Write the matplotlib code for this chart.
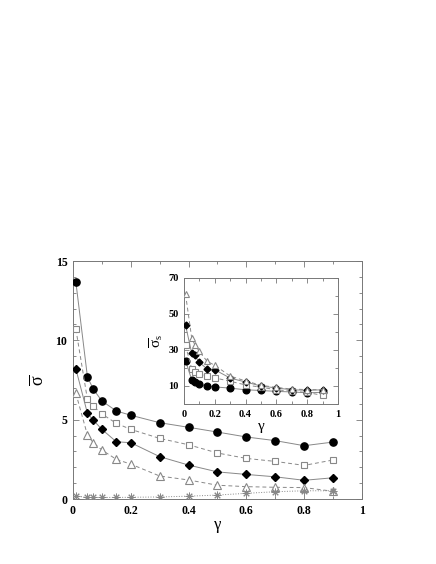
import matplotlib
matplotlib.use("Agg")
import matplotlib.pyplot as plt
from matplotlib.ticker import MultipleLocator

plt.rcParams['font.family'] = ['Liberation Serif', 'DejaVu Serif']
plt.rcParams['mathtext.fontset'] = 'custom'
plt.rcParams['mathtext.rm'] = 'Liberation Serif'
plt.rcParams['mathtext.it'] = 'Liberation Serif'
plt.rcParams['mathtext.bf'] = 'Liberation Serif:bold'

# ---- data: main panel ----
gamma = [0.01, 0.05, 0.07, 0.1, 0.15, 0.2, 0.3, 0.4, 0.5, 0.6, 0.7, 0.8, 0.9]
sig_circle = [13.67, 7.70, 6.93, 6.18, 5.55, 5.28, 4.81, 4.52, 4.22, 3.91, 3.68, 3.36, 3.59]
sig_square = [10.7, 6.28, 5.86, 5.36, 4.77, 4.39, 3.82, 3.42, 2.90, 2.56, 2.37, 2.12, 2.46]
sig_diamond = [8.2, 5.40, 4.98, 4.39, 3.61, 3.55, 2.67, 2.14, 1.71, 1.55, 1.40, 1.18, 1.34]
sig_triangle = [6.66, 4.03, 3.55, 3.09, 2.50, 2.20, 1.45, 1.20, 0.87, 0.78, 0.74, 0.72, 0.49]
sig_star = [0.19, 0.10, 0.10, 0.10, 0.10, 0.11, 0.13, 0.18, 0.25, 0.36, 0.46, 0.52, 0.52]

# ---- data: inset ----
gamma_in = [0.01, 0.05, 0.07, 0.1, 0.15, 0.2, 0.3, 0.4, 0.5, 0.6, 0.7, 0.8, 0.9]
sigs_circle = [24.0, 13.5, 12.0, 11.0, 10.0, 9.5, 8.8, 7.9, 7.5, 7.0, 6.7, 6.2, 6.5]
sigs_square = [32.6, 19.5, 18.0, 16.6, 15.5, 14.5, 12.6, 10.6, 9.3, 7.9, 7.1, 6.4, 4.8]
sigs_diamond = [43.8, 28.3, 27.0, 23.1, 19.5, 19.0, 14.4, 12.2, 10.0, 8.9, 7.9, 7.6, 7.9]
sigs_triangle = [61.0, 36.7, 33.0, 29.2, 23.7, 21.5, 15.5, 12.8, 10.4, 9.2, 8.3, 8.0, 7.9]

fig = plt.figure(figsize=(4.36, 5.64), dpi=100)
ax = fig.add_axes([0.1674, 0.1152, 0.6628, 0.422])

lc = '#888888'
lw = 0.7
ax.plot(gamma, sig_circle, '-', color=lc, lw=lw, marker='o', ms=5.2,
        mfc='black', mec='black', zorder=3)
ax.plot(gamma, sig_square, '--', color=lc, lw=lw, dashes=(4, 3), marker='s', ms=4.6,
        mfc='white', mec='#888888', mew=0.8, zorder=3)
ax.plot(gamma, sig_diamond, '-', color=lc, lw=lw, marker='D', ms=3.8,
        mfc='black', mec='black', zorder=3)
ax.plot(gamma, sig_triangle, '--', color=lc, lw=lw, dashes=(4, 3), marker='^', ms=5.6,
        mfc='white', mec='#888888', mew=0.8, zorder=3)
ax.plot(gamma, sig_star, ':', color=lc, lw=lw, marker=(8, 2, 0), ms=5.5,
        mec='#888888', mew=0.7, zorder=3)

ax.set_xlim(0, 1)
ax.set_ylim(0, 15)
ax.set_xticks([0, 0.2, 0.4, 0.6, 0.8, 1])
ax.set_xticklabels(['0', '0.2', '0.4', '0.6', '0.8', '1'])
ax.xaxis.set_minor_locator(MultipleLocator(0.1))
ax.set_yticks([0, 5, 10, 15])
ax.set_yticklabels(['0', '5', '10', '15'])
ax.yaxis.set_minor_locator(MultipleLocator(1))
ax.tick_params(which='both', direction='in', top=True, right=True,
               color='#777777', width=0.6, labelsize=8.5)
ax.tick_params(which='major', length=4, pad=4)
ax.tick_params(which='minor', length=2.5)
for lab in ax.get_xticklabels() + ax.get_yticklabels():
    lab.set_fontweight('bold')
for s in ax.spines.values():
    s.set_color('#777777')
    s.set_linewidth(0.7)
ax.set_xlabel('γ', fontsize=12, labelpad=0)
ax.set_ylabel(r'$\overline{\sigma}$', fontsize=13, labelpad=6)

# ---- inset ----
ai = fig.add_axes([0.422, 0.2837, 0.3532, 0.2234])
ai.plot(gamma_in, sigs_circle, '-', color=lc, lw=lw, marker='o', ms=4.8,
        mfc='black', mec='black', zorder=3)
ai.plot(gamma_in, sigs_square, '--', color=lc, lw=lw, dashes=(4, 3), marker='s', ms=4.2,
        mfc='white', mec='#888888', mew=0.8, zorder=3)
ai.plot(gamma_in, sigs_diamond, '-', color=lc, lw=lw, marker='D', ms=3.5,
        mfc='black', mec='black', zorder=3)
ai.plot(gamma_in, sigs_triangle, '--', color=lc, lw=lw, dashes=(4, 3), marker='^', ms=5.0,
        mfc='white', mec='#888888', mew=0.8, zorder=3)
ai.set_xlim(0, 1)
ai.set_ylim(0, 70)
ai.set_xticks([0, 0.2, 0.4, 0.6, 0.8, 1])
ai.set_xticklabels(['0', '0.2', '0.4', '0.6', '0.8', '1'])
ai.xaxis.set_minor_locator(MultipleLocator(0.1))
ai.set_yticks([10, 30, 50, 70])
ai.set_yticklabels(['10', '30', '50', '70'])
ai.yaxis.set_minor_locator(MultipleLocator(10))
ai.tick_params(which='both', direction='in', top=True, right=True,
               color='#777777', width=0.6, labelsize=7.5)
ai.tick_params(which='major', length=3.5, pad=4)
ai.tick_params(which='minor', length=2)
for lab in ai.get_xticklabels() + ai.get_yticklabels():
    lab.set_fontweight('bold')
for s in ai.spines.values():
    s.set_color('#777777')
    s.set_linewidth(0.7)
ai.set_xlabel('γ', fontsize=11, labelpad=1)
ai.set_ylabel(r'$\overline{\sigma}_s$', fontsize=11, labelpad=2)

fig.savefig('out.png', dpi=100)
